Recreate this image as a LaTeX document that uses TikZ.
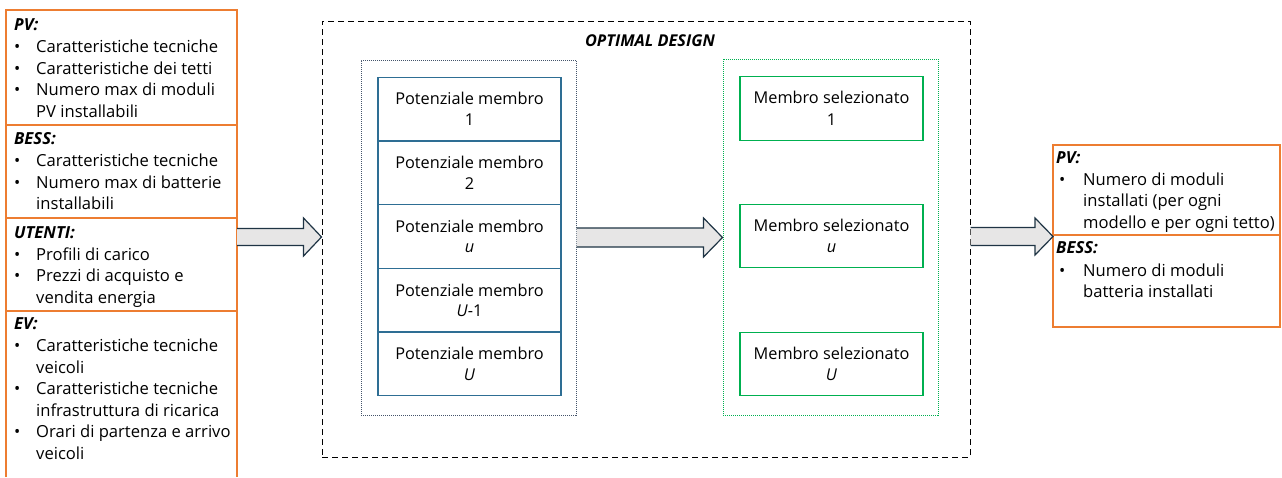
\documentclass[tikz,border=0pt]{standalone}
\usepackage{fontspec}
\setmainfont{Open Sans}
\usetikzlibrary{calc}
\definecolor{orng}{HTML}{ED7D31}
\definecolor{bluebox}{HTML}{2E6E94}
\definecolor{bluedot}{HTML}{44546A}
\definecolor{grn}{HTML}{00B050}
\definecolor{arrfill}{HTML}{E7E6E6}
\definecolor{arrdraw}{HTML}{1F3444}
\newcommand{\bl}{\makebox[22pt][l]{•}}
\newcommand{\ind}{\hspace*{22pt}}
\newcommand{\blr}{\makebox[27pt][l]{\hspace*{3pt}•}}
\newcommand{\indr}{\hspace*{27pt}}
\newcommand{\hd}[1]{\textbf{\textit{#1}}}
\begin{document}
\begin{tikzpicture}[x=1pt,y=-1pt,
  sect/.style={inner sep=0pt, align=left, anchor=base west, font=\fontsize{16.6}{21.5}\selectfont},
  potbox/.style={draw=bluebox, line width=1.3pt, minimum width=183pt, minimum height=63.5pt, inner sep=0pt, align=center, font=\fontsize{16.3}{20.5}\selectfont},
  selbox/.style={draw=grn, line width=1.3pt, minimum width=183pt, minimum height=63.5pt, inner sep=0pt, align=center, font=\fontsize{16.3}{21.5}\selectfont},
  blockarrow/.style={draw=arrdraw, fill=arrfill, line width=1.2pt, line join=miter},
  orangeline/.style={draw=orng, line width=1.3pt}
]
\useasboundingbox (0,0) rectangle (1282,477);

% left input box
\draw[orangeline] (6,477) -- (6,10) -- (237,10) -- (237,477);
\draw[orangeline] (6,125) -- (237,125);
\draw[orangeline] (6,218) -- (237,218);
\draw[orangeline] (6,311) -- (237,311);
\coordinate (inR) at (237,237);

% anchors are at the baseline of the last line
\node[sect] (inpv) at (14,117.2) {\hd{PV:}\\[0.5pt]
\bl Caratteristiche tecniche\\
\bl Caratteristiche dei tetti\\
\bl Numero max di moduli\\
\ind PV installabili};
\node[sect] (inbess) at (14,209.5) {\hd{BESS:}\\[0.5pt]
\bl Caratteristiche tecniche\\
\bl Numero max di batterie\\
\ind installabili};
\node[sect] (inut) at (14,303) {\hd{UTENTI:}\\[0.5pt]
\bl Profili di carico\\
\bl Prezzi di acquisto e\\
\ind vendita energia};
\node[sect] (inev) at (14,459) {\hd{EV:}\\[0.5pt]
\bl Caratteristiche tecniche\\
\ind veicoli\\
\bl Caratteristiche tecniche\\
\ind infrastruttura di ricarica\\
\bl Orari di partenza e arrivo\\
\ind veicoli};

% optimal design container
\node[draw=black, line width=1pt, dash pattern=on 6pt off 4pt, minimum width=648pt, minimum height=436pt, inner sep=0pt] (od) at (646,239) {};
\node[inner sep=0pt, anchor=base, font=\fontsize{16.3}{19}\selectfont] (odt) at (650,46) {\hd{OPTIMAL DESIGN}};

% potential members
\node[draw=bluedot, line width=1pt, densely dotted, minimum width=215pt, minimum height=355pt, inner sep=0pt] (potc) at (468.5,237.5) {};
\node[potbox] (p1) at (469.5,109) {Potenziale membro\\1};
\node[potbox] (p2) at (469.5,172.75) {Potenziale membro\\2};
\node[potbox] (p3) at (469.5,236.5) {Potenziale membro\\\textit{u}};
\node[potbox] (p4) at (469.5,300.25) {Potenziale membro\\\textit{U}-1};
\node[potbox] (p5) at (469.5,364) {Potenziale membro\\\textit{U}};

% selected members
\node[draw=grn, line width=1pt, densely dotted, minimum width=215pt, minimum height=356pt, inner sep=0pt] (selc) at (830.5,237) {};
\node[selbox] (s1) at (831.5,108.5) {Membro selezionato\\1};
\node[selbox] (s2) at (831.5,236) {Membro selezionato\\\textit{u}};
\node[selbox] (s3) at (831.5,364) {Membro selezionato\\\textit{U}};

% output box
\draw[orangeline] (1053,145) rectangle (1280,327);
\draw[orangeline] (1053,235) -- (1280,235);
\coordinate (outL) at (1053,236.5);
\node[sect] (outpv) at (1056,228.3) {\hd{PV:}\\[0.5pt]
\blr Numero di moduli\\
\indr installati (per ogni\\
\indr modello e per ogni tetto)};
\node[sect] (outbess) at (1056,297.8) {\hd{BESS:}\\[1.5pt]
\blr Numero di moduli\\
\indr batteria installati};

% block arrows
\coordinate (a1s) at (inR);
\coordinate (a1e) at (od.west |- inR);
\draw[blockarrow] ($(a1s)+(0,-8.5)$) -- ($(a1e)+(-18,-8.5)$) -- ($(a1e)+(-18,-19)$) -- (a1e) -- ($(a1e)+(-18,19)$) -- ($(a1e)+(-18,8.5)$) -- ($(a1s)+(0,8.5)$);
\coordinate (a2s) at (potc.east |- 0,237.5);
\coordinate (a2e) at (selc.west |- 0,237.5);
\draw[blockarrow] ($(a2s)+(0,-9.5)$) -- ($(a2e)+(-19,-9.5)$) -- ($(a2e)+(-19,-19.5)$) -- (a2e) -- ($(a2e)+(-19,19.5)$) -- ($(a2e)+(-19,9.5)$) -- ($(a2s)+(0,9.5)$);
\coordinate (a3s) at (od.east |- outL);
\coordinate (a3e) at (outL);
\draw[blockarrow] ($(a3s)+(0,-9)$) -- ($(a3e)+(-18,-9)$) -- ($(a3e)+(-18,-18.5)$) -- (a3e) -- ($(a3e)+(-18,18.5)$) -- ($(a3e)+(-18,9)$) -- ($(a3s)+(0,9)$);
\end{tikzpicture}
\end{document}
